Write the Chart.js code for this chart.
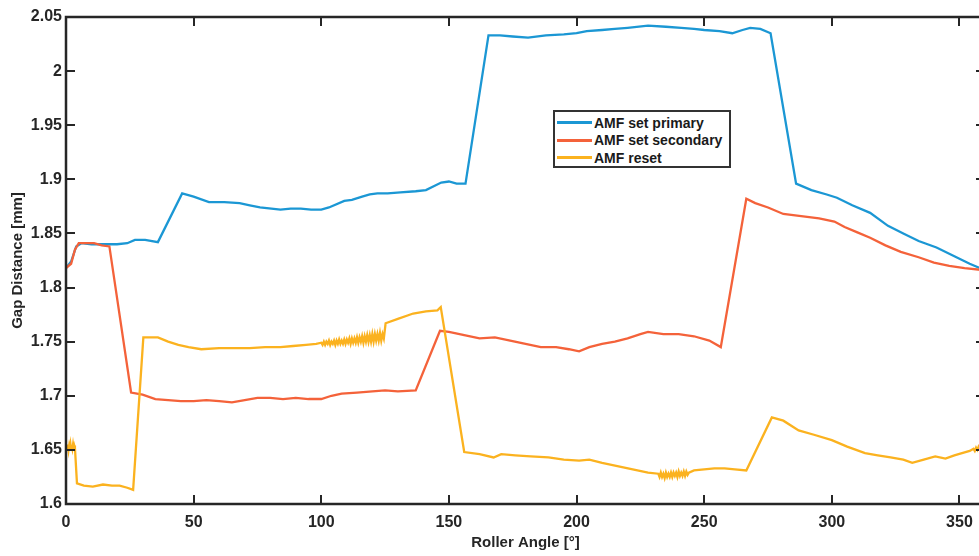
<!DOCTYPE html>
<html>
<head>
<meta charset="utf-8">
<script src="https://cdn.jsdelivr.net/npm/chart.js@4"></script>
<style>
  html, body { margin: 0; padding: 0; background: #fff; overflow: hidden; }
  #wrap { position: relative; width: 990px; height: 556px; }
  #legend {
    position: absolute; left: 553px; top: 110px; width: 172px; height: 54px;
    border: 2px solid #333; background: #fff; padding: 0 0 0 2px;
    font: bold 14px "Liberation Sans", Arial, sans-serif; color: #1a1a1a;
  }
  .row { display: flex; align-items: center; height: 17.5px; }
  .row:first-child { margin-top: 2px; }
  .swatch { width: 35px; height: 3px; margin-right: 2px; }
</style>
</head>
<body>
<div id="wrap">
  <canvas id="myChart"></canvas>
  <div id="legend"></div>
</div>
<script>
const axisColor = '#262626';
const xTicks = [0, 50, 100, 150, 200, 250, 300, 350];
const yTicks = [1.6, 1.65, 1.7, 1.75, 1.8, 1.85, 1.9, 1.95, 2, 2.05];

// AMF set primary
const primaryAngle = [0, 2, 4, 6, 10, 15, 20, 24, 27, 31, 36, 45.5, 50, 56, 62, 68, 72, 76, 84, 88, 92, 96, 100, 103, 109, 112, 116, 119, 122, 126, 131, 137, 141, 147, 150, 153, 156.5, 165.5, 170, 175, 181, 188, 195, 200, 204, 210, 215, 220, 228, 235, 241, 246, 250, 256, 261, 265, 268, 272, 276, 286, 292, 298, 302, 308, 315, 322, 328, 334, 341, 348, 354, 360];
const primaryGap = [1.818, 1.824, 1.838, 1.841, 1.840, 1.840, 1.840, 1.841, 1.844, 1.844, 1.842, 1.887, 1.884, 1.879, 1.879, 1.878, 1.876, 1.874, 1.872, 1.873, 1.873, 1.872, 1.872, 1.874, 1.880, 1.881, 1.884, 1.886, 1.887, 1.887, 1.888, 1.889, 1.890, 1.897, 1.898, 1.896, 1.896, 2.033, 2.033, 2.032, 2.031, 2.033, 2.034, 2.035, 2.037, 2.038, 2.039, 2.040, 2.042, 2.041, 2.040, 2.039, 2.038, 2.037, 2.035, 2.038, 2.040, 2.039, 2.035, 1.896, 1.890, 1.886, 1.883, 1.876, 1.869, 1.857, 1.850, 1.843, 1.837, 1.829, 1.822, 1.816];

// AMF set secondary
const secondaryAngle = [0, 2, 3.5, 5, 8, 11, 14, 17, 25.5, 30, 35, 40, 45, 50, 55, 60, 65, 70, 75, 80, 85, 90, 95, 100, 104, 108, 114, 120, 125, 130, 137, 146.5, 150, 156, 162, 168, 174, 180, 186, 192, 197, 201, 205, 210, 215, 220, 225, 228, 234, 240, 246, 252, 256.5, 266.5, 270, 275, 281, 288, 295, 301, 305, 310, 315, 321, 327, 334, 340, 346, 352, 360];
const secondaryGap = [1.818, 1.822, 1.835, 1.841, 1.841, 1.841, 1.839, 1.838, 1.703, 1.701, 1.697, 1.696, 1.695, 1.695, 1.696, 1.695, 1.694, 1.696, 1.698, 1.698, 1.697, 1.698, 1.697, 1.697, 1.700, 1.702, 1.703, 1.704, 1.705, 1.704, 1.705, 1.760, 1.759, 1.756, 1.753, 1.754, 1.751, 1.748, 1.745, 1.745, 1.743, 1.741, 1.745, 1.748, 1.750, 1.753, 1.757, 1.759, 1.757, 1.757, 1.755, 1.751, 1.745, 1.882, 1.878, 1.874, 1.868, 1.866, 1.864, 1.861, 1.856, 1.851, 1.846, 1.839, 1.833, 1.828, 1.823, 1.820, 1.818, 1.816];

// AMF reset (noisy stretches near 0-3, 100-124 and 232-244 deg)
const resetAngle = [
  0, 0.25, 0.5, 0.75, 1, 1.25, 1.5, 1.75, 2, 2.25, 2.5, 2.75, 3, 3.25, 3.5,
  4.3, 7, 10.5, 14.5, 18, 21, 24, 26.3, 30.3, 36, 40, 44, 48, 53, 60, 66, 72, 78, 84, 89, 94, 98,
  100, 100.5, 101, 101.5, 102, 102.5, 103, 103.5, 104, 104.5, 105, 105.5, 106, 106.5, 107, 107.5, 108, 108.5, 109, 109.5,
  110, 110.5, 111, 111.5, 112, 112.5, 113, 113.5, 114, 114.5, 115, 115.5, 116, 116.5, 117, 117.5, 118, 118.5, 119, 119.5,
  120, 120.5, 121, 121.5, 122, 122.5, 123, 123.5, 124, 124.5,
  125.2, 130, 136, 141, 145.5, 146.8, 156, 162, 167.5, 170.5, 176, 182, 189, 195, 201, 205, 210, 216, 222, 228,
  232, 232.5, 233, 233.5, 234, 234.5, 235, 235.5, 236, 236.5, 237, 237.5, 238, 238.5, 239, 239.5, 240, 240.5, 241, 241.5, 242, 242.5, 243, 243.5, 244,
  246, 250, 254, 258, 262, 266.5, 276.5, 281, 287, 293, 300, 306, 313, 318, 323, 328, 331.5, 336, 340.5, 344.5, 348, 351, 354,
  355.5, 356, 356.5, 357, 357.5, 358, 358.5, 359, 359.5, 360
];
const resetGap = [
  1.651, 1.654, 1.650, 1.655, 1.650, 1.654, 1.651, 1.655, 1.650, 1.654, 1.651, 1.655, 1.651, 1.654, 1.652,
  1.619, 1.617, 1.616, 1.618, 1.617, 1.617, 1.615, 1.613, 1.754, 1.754, 1.750, 1.747, 1.745, 1.743, 1.744, 1.744, 1.744, 1.745, 1.745, 1.746, 1.747, 1.748,
  1.749, 1.747, 1.750, 1.747, 1.750, 1.748, 1.751, 1.747, 1.750, 1.748, 1.751, 1.747, 1.751, 1.748, 1.752, 1.748, 1.751, 1.748, 1.752, 1.748,
  1.752, 1.749, 1.753, 1.748, 1.753, 1.749, 1.753, 1.749, 1.754, 1.749, 1.754, 1.750, 1.755, 1.749, 1.755, 1.750, 1.756, 1.750, 1.756, 1.750,
  1.757, 1.750, 1.757, 1.751, 1.757, 1.751, 1.758, 1.751, 1.757, 1.753,
  1.767, 1.771, 1.776, 1.778, 1.779, 1.782, 1.648, 1.646, 1.643, 1.646, 1.645, 1.644, 1.643, 1.641, 1.640, 1.641, 1.638, 1.635, 1.632, 1.629,
  1.628, 1.625, 1.629, 1.625, 1.628, 1.624, 1.629, 1.625, 1.628, 1.625, 1.629, 1.625, 1.629, 1.626, 1.629, 1.625, 1.630, 1.626, 1.629, 1.626, 1.630, 1.626, 1.630, 1.627, 1.629,
  1.631, 1.632, 1.633, 1.633, 1.632, 1.631, 1.680, 1.677, 1.668, 1.664, 1.659, 1.653, 1.647, 1.645, 1.643, 1.641, 1.638, 1.641, 1.644, 1.642, 1.645, 1.647, 1.649,
  1.651, 1.649, 1.652, 1.650, 1.653, 1.651, 1.654, 1.651, 1.655, 1.653
];

function pts(xs, ys) {
  return xs.map((v, i) => ({ x: v, y: ys[i] }));
}

const seriesNames = ['AMF set primary', 'AMF set secondary', 'AMF reset'];
const seriesColors = ['#1b97d4', '#f4623a', '#fbb21f'];

const datasets = [
  { label: seriesNames[0], data: pts(primaryAngle, primaryGap), borderColor: seriesColors[0], order: 2 },
  { label: seriesNames[1], data: pts(secondaryAngle, secondaryGap), borderColor: seriesColors[1], order: 1 },
  { label: seriesNames[2], data: pts(resetAngle, resetGap), borderColor: seriesColors[2], order: 0 }
].map(d => Object.assign(d, { borderWidth: 2.3, pointRadius: 0, tension: 0, fill: false }));

// box around the plot with inward ticks, like the original figure
const boxTicks = {
  id: 'boxTicks',
  afterDraw(chart) {
    const { ctx, chartArea: a, scales } = chart;
    const x = scales.x, y = scales.y;
    const len = 9;
    ctx.save();
    ctx.strokeStyle = axisColor;
    ctx.lineWidth = 2;
    ctx.beginPath();
    x.ticks.forEach(t => {
      const px = Math.round(x.getPixelForValue(t.value));
      ctx.moveTo(px, a.bottom); ctx.lineTo(px, a.bottom - len);
      ctx.moveTo(px, a.top); ctx.lineTo(px, a.top + len);
    });
    y.ticks.forEach(t => {
      const py = Math.round(y.getPixelForValue(t.value));
      ctx.moveTo(a.left, py); ctx.lineTo(a.left + len, py);
      ctx.moveTo(a.right, py); ctx.lineTo(a.right - len, py);
    });
    ctx.stroke();
    ctx.lineWidth = 2.5;
    ctx.strokeRect(a.left, a.top, a.right - a.left, a.bottom - a.top);
    ctx.restore();
  }
};

const tickFont = { family: '"Liberation Sans", Arial, sans-serif', size: 16, weight: 'bold' };

const config = {
  type: 'line',
  data: { datasets: datasets },
  options: {
    responsive: true,
    maintainAspectRatio: false,
    animation: false,
    layout: { padding: { top: 17, right: 5, left: 0, bottom: 0 } },
    plugins: { legend: { display: false }, tooltip: { enabled: false } },
    scales: {
      x: {
        type: 'linear',
        min: 0,
        max: 360,
        afterBuildTicks: s => { s.ticks = xTicks.map(v => ({ value: v })); },
        afterFit: s => { s.height = 52; },
        grid: { display: false, drawTicks: false },
        border: { display: false },
        ticks: { color: axisColor, font: tickFont, padding: 9, maxRotation: 0 },
        title: {
          display: true, text: 'Roller Angle [°]', color: axisColor,
          font: { family: '"Liberation Sans", Arial, sans-serif', size: 15, weight: 'bold' },
          padding: { top: 0, bottom: 4 }
        }
      },
      y: {
        type: 'linear',
        min: 1.6,
        max: 2.05,
        afterBuildTicks: s => { s.ticks = yTicks.map(v => ({ value: v })); },
        afterFit: s => { s.width = 66; },
        grid: { display: false, drawTicks: false },
        border: { display: false },
        ticks: { color: axisColor, font: tickFont, padding: 4, callback: v => String(+v.toFixed(2)) },
        title: {
          display: true, text: 'Gap Distance [mm]', color: axisColor,
          font: { family: '"Liberation Sans", Arial, sans-serif', size: 15, weight: 'bold' },
          padding: { top: 9, bottom: 0 }
        }
      }
    }
  },
  plugins: [boxTicks]
};

const myChart = new Chart(document.getElementById('myChart'), config);

// legend box inside the plot
const legend = document.getElementById('legend');
seriesNames.forEach((name, i) => {
  const row = document.createElement('div');
  row.className = 'row';
  const sw = document.createElement('span');
  sw.className = 'swatch';
  sw.style.background = seriesColors[i];
  const txt = document.createElement('span');
  txt.textContent = name;
  row.appendChild(sw);
  row.appendChild(txt);
  legend.appendChild(row);
});
</script>
</body>
</html>
